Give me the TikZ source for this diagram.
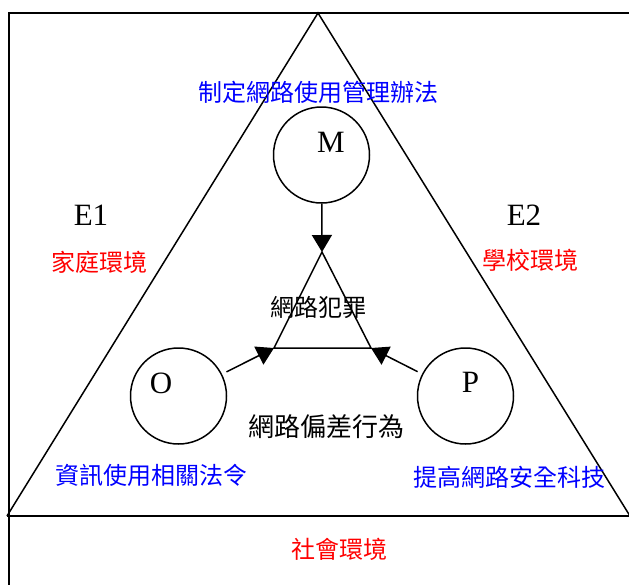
\documentclass[tikz,border=0pt]{standalone}
\usepackage{fontspec}
\setmainfont{Liberation Serif}
\newfontfamily\cjk{Noto Sans CJK TC}
\usetikzlibrary{arrows.meta}
\definecolor{myblue}{RGB}{0,0,255}
\definecolor{myred}{RGB}{255,0,0}
\tikzset{
  cjkblue/.style={inner sep=0pt, text=myblue, font=\cjk\fontsize{24}{26}\selectfont},
  cjkred/.style={inner sep=0pt, text=myred, font=\cjk\fontsize{24}{26}\selectfont},
  cjkblack/.style={inner sep=0pt, text=black, font=\cjk\fontsize{24}{26}\selectfont},
  latin/.style={inner sep=0pt, font=\fontsize{31}{33}\selectfont},
  ring/.style={circle, draw, line width=1.5pt, minimum size=96pt, inner sep=0pt},
  arr/.style={line width=1.5pt, -{Triangle[length=17pt,width=20pt]}},
}
\begin{document}
\begin{tikzpicture}[x=1pt,y=-1pt]
\useasboundingbox (0,0) rectangle (629,584);
% outer frame
\coordinate (fbl) at (9,590);
\coordinate (ftl) at (9,13);
\coordinate (ftr) at (640,13);
\draw[line width=2pt] (fbl) -- (ftl) -- (ftr);
% big triangle
\coordinate (A) at (318,13);
\coordinate (BL) at (7,516);
\coordinate (BR) at (630,516);
\draw[line width=1.5pt] (BL) -- (A) -- (BR);
\draw[line width=2pt] (BL) -- (BR);
% inner triangle
\coordinate (ia) at (322,252);
\coordinate (il) at (274,348);
\coordinate (ir) at (371,348);
\draw[line width=1.5pt] (ia) -- (il) -- (ir) -- cycle;
% circles
\node[ring] (M) at (321.5,155) {};
\node[ring] (O) at (178.5,396) {};
\node[ring] (P) at (465.5,396) {};
\node[latin] (tM) at (331,142) {M};
\node[latin] (tO) at (161,383) {O};
\node[latin] (tP) at (470.5,382) {P};
% arrows
\draw[arr] (M) -- (ia);
\draw[arr, shorten <=5pt] (O) -- (il);
\draw[arr, shorten <=5pt] (P) -- (ir);
% labels
\node[cjkblue] (t1) at (318,92) {制定網路使用管理辦法};
\node[latin] (e1) at (91,215) {E1};
\node[latin] (e2) at (524,215) {E2};
\node[cjkred] (home) at (99,262) {家庭環境};
\node[cjkred] (school) at (530.5,260) {學校環境};
\node[cjkblack] (crime) at (318,307) {網路犯罪};
\node[cjkblack, font=\cjk\fontsize{26}{28}\selectfont] (dev) at (326,427) {網路偏差行為};
\node[cjkblue] (law) at (151,475) {資訊使用相關法令};
\node[cjkblue] (tech) at (509,477) {提高網路安全科技};
\node[cjkred] (soc) at (339,549) {社會環境};
\end{tikzpicture}
\end{document}
